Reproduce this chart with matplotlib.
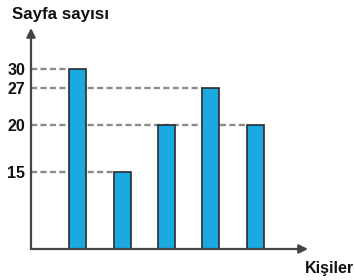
import numpy as np
import matplotlib
matplotlib.use("Agg")
import matplotlib.pyplot as plt

plt.rcParams["font.family"] = ["Liberation Sans", "DejaVu Sans"]

# bar data
people = [1, 2, 3, 4, 5]
pages = [30, 15, 20, 27, 20]
tick_values = [15, 20, 27, 30]

# the drawing is not to scale: piecewise mapping of values to height
SCALE_VALUES = [0, 15, 20, 27, 30]
SCALE_HEIGHT = [0, 76.7, 124, 160.7, 180]


def forward(v):
    return np.interp(v, SCALE_VALUES, SCALE_HEIGHT)


def inverse(h):
    return np.interp(h, SCALE_HEIGHT, SCALE_VALUES)


W, H = 355, 280
fig = plt.figure(figsize=(W / 100, H / 100), dpi=100)
ax_left, ax_bottom, ax_right, ax_top = 31, 249, 300, 69
ax = fig.add_axes([ax_left / W, 1 - ax_bottom / H, (ax_right - ax_left) / W, (ax_bottom - ax_top) / H])
ax.set_yscale("function", functions=(forward, inverse))

spacing = 44.4
first_center = 77.7
bar_width = 17 / spacing
ax.set_xlim(1 - (first_center - ax_left) / spacing, 1 + (ax_right - first_center) / spacing)
ax.set_ylim(0, 30)

bars = ax.bar(people, pages, width=bar_width, color="#1aa9e1", edgecolor="#2b2b2b", linewidth=1.2, zorder=3)
for b in bars:
    b.set_clip_on(False)

# dashed guide lines from axis to the last bar of each height
xmin = ax.get_xlim()[0]
for v in tick_values:
    idx = max(i for i, p in enumerate(pages) if p == v)
    ax.hlines(v, xmin, people[idx] - bar_width / 2, colors="#8c8c8c", linestyles=(0, (2.6, 1.4)),
              linewidth=1.7, zorder=1, clip_on=False)

ax.set_yticks(tick_values)
ax.set_yticklabels([str(v) for v in tick_values], fontsize=11.5, fontweight="bold", color="#111111")
ax.tick_params(axis="y", length=0, pad=4)
ax.set_xticks([])
for s in ax.spines.values():
    s.set_visible(False)

arrow = dict(arrowstyle="-|>", color="#444444", lw=1.6, mutation_scale=13, shrinkA=0, shrinkB=0)
ax.annotate("", xy=(0, (ax_bottom - 28) / (ax_bottom - ax_top)), xytext=(0, 0),
            xycoords="axes fraction", textcoords="axes fraction", arrowprops=arrow, annotation_clip=False)
ax.annotate("", xy=((308 - ax_left) / (ax_right - ax_left), 0), xytext=(0, 0),
            xycoords="axes fraction", textcoords="axes fraction", arrowprops=arrow, annotation_clip=False)

fig.text(12 / W, 1 - 14 / H, "Sayfa sayısı", fontsize=12.2, fontweight="bold", va="center", ha="left", color="#111111")
fig.text(305 / W, 1 - 268 / H, "Kişiler", fontsize=11.5, fontweight="bold", va="center", ha="left", color="#111111")

fig.savefig("out.png", dpi=100)
